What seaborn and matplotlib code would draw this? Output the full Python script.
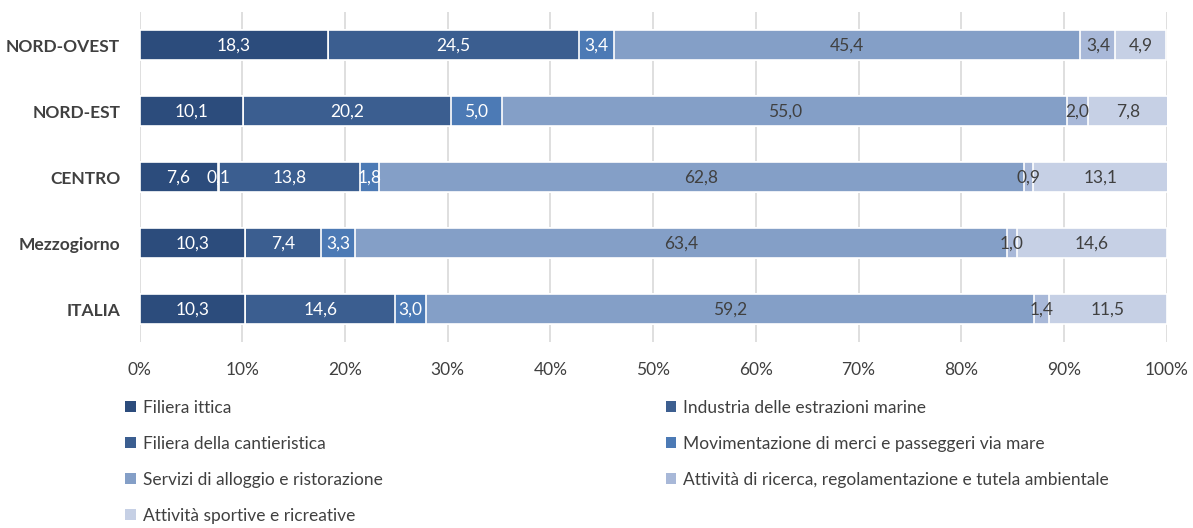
import numpy as np
import pandas as pd
import matplotlib
matplotlib.use("Agg")
import matplotlib.pyplot as plt
import seaborn as sns
from matplotlib.patches import Patch

regions = ["NORD-OVEST", "NORD-EST", "CENTRO", "Mezzogiorno", "ITALIA"]
series = ["Filiera ittica",
          "Industria delle estrazioni marine",
          "Filiera della cantieristica",
          "Movimentazione di merci e passeggeri via mare",
          "Servizi di alloggio e ristorazione",
          "Attività di ricerca, regolamentazione e tutela ambientale",
          "Attività sportive e ricreative"]
ittica = [18.3, 10.1, 7.6, 10.3, 10.3]
estrazioni = [0.0, 0.0, 0.1, 0.0, 0.0]
cantieristica = [24.5, 20.2, 13.8, 7.4, 14.6]
movimentazione = [3.4, 5.0, 1.8, 3.3, 3.0]
servizi = [45.4, 55.0, 62.8, 63.4, 59.2]
ricerca = [3.4, 2.0, 0.9, 1.0, 1.4]
sportive = [4.9, 7.8, 13.1, 14.6, 11.5]

colors = ["#2C4C7C", "#3D5F90", "#3B5E90", "#4C7AB5", "#849FC7", "#A8B8D8", "#C6D0E5"]
text_colors = ["white", "white", "white", "white", "#404040", "#404040", "#404040"]

df = pd.DataFrame([ittica, estrazioni, cantieristica, movimentazione, servizi, ricerca, sportive],
                  index=series, columns=regions).T
cum = df.cumsum(axis=1)

sns.set_theme(style="white")
plt.rcParams["font.family"] = ["Lato", "DejaVu Sans"]

fig = plt.figure(figsize=(11.93, 5.28), dpi=100)
ax = fig.add_axes([0.117, 0.352, 0.861, 0.625])

ax.set_axisbelow(True)
for x in np.arange(0, 101, 10):
    ax.axvline(x, color="#D9D9D9", lw=1.2, zorder=0)

# barre cumulate, dall'ultima serie alla prima
for i in range(len(series) - 1, -1, -1):
    plot_df = pd.DataFrame({"region": regions, "val": cum.iloc[:, i].values})
    sns.barplot(data=plot_df, x="val", y="region", orient="h", color=colors[i],
                width=0.46, edgecolor="white", linewidth=1.2, saturation=1, ax=ax)

for r, reg in enumerate(regions):
    left = 0
    for i, s in enumerate(series):
        v = df.loc[reg, s]
        if v > 0:
            ax.text(left + v / 2, r, f"{v:.1f}".replace(".", ","), ha="center", va="center",
                    color=text_colors[i], fontsize=12.5)
        left += v

ax.set_xlim(0, 100)
ax.set_ylim(4.5, -0.5)
ax.set_xticks(np.arange(0, 101, 10))
ax.set_xticklabels([f"{t}%" for t in range(0, 101, 10)], fontsize=12.5, color="#404040")
ax.set_yticks(range(len(regions)))
ax.set_yticklabels(regions, fontsize=12.5, color="#404040", fontweight="bold")
ax.tick_params(axis="x", pad=14, length=0)
ax.tick_params(axis="y", pad=14, length=0)
ax.set_xlabel("")
ax.set_ylabel("")
for sp in ax.spines.values():
    sp.set_visible(False)

# legenda a due colonne, riempita per righe
handles = [Patch(facecolor=c, edgecolor="none") for c in colors]
leg_kw = dict(loc="upper left", frameon=False, fontsize=12.5, handlelength=0.6,
              handleheight=0.6, handletextpad=0.4, labelspacing=1.15, labelcolor="#404040")
idx1 = [0, 2, 4, 6]
idx2 = [1, 3, 5]
fig.legend([handles[i] for i in idx1], [series[i] for i in idx1],
           bbox_to_anchor=(0.092, 0.272), **leg_kw)
fig.legend([handles[i] for i in idx2], [series[i] for i in idx2],
           bbox_to_anchor=(0.545, 0.272), **leg_kw)

fig.savefig("out.png", dpi=100)
